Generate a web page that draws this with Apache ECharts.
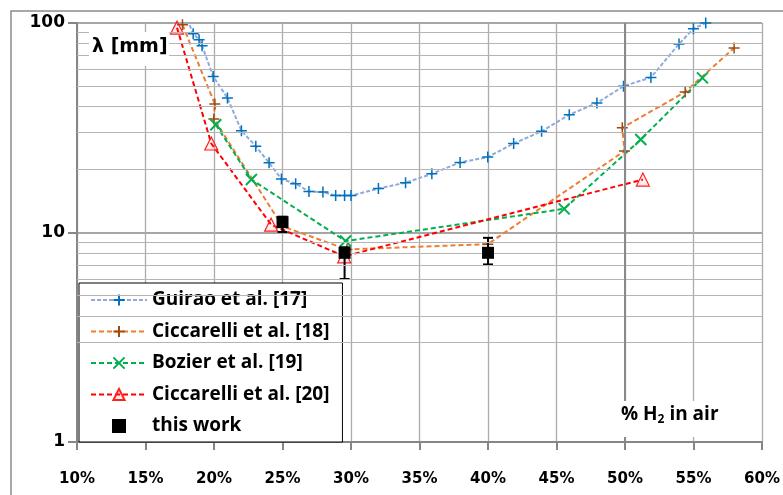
<!DOCTYPE html>
<html><head><meta charset="utf-8">
<script src="https://cdn.jsdelivr.net/npm/echarts@6/dist/echarts.min.js"></script>
<style>html,body{margin:0;padding:0;background:#fff}#c{width:783px;height:495px}</style>
</head><body><div id="c"></div>
<script>
// ---- data ----
const xTicks = [10, 15, 20, 25, 30, 35, 40, 45, 50, 55, 60];
const yTicks = [1, 10, 100];
const minorGridValues = [3, 4, 5, 6, 7, 8, 9, 20, 30, 40, 50, 60, 70, 80, 90];

const guiraoX = [18.05, 18.48, 18.91, 19.13, 19.94, 20.98, 22.0, 23.05, 24.02, 24.92, 25.96, 26.93, 27.95, 28.88, 29.53, 30.0, 32.0, 33.98, 35.9, 37.96, 39.98, 41.87, 43.91, 45.93, 47.95, 49.89, 51.89, 53.94, 54.99, 55.89];
const guiraoY = [104, 88.9, 83.2, 77.9, 55.6, 43.9, 30.6, 25.8, 21.5, 18.0, 17.1, 15.7, 15.6, 15.0, 15.0, 15.0, 16.2, 17.3, 19.05, 21.6, 22.9, 26.6, 30.4, 36.5, 41.5, 49.9, 55.0, 79.4, 93.9, 100];

const cicc18X = [17.7, 20.06, 19.99, 25.0, 29.7, 39.98, 49.96, 49.8, 54.39, 57.96];
const cicc18Y = [98, 41.1, 34.8, 10.7, 8.3, 8.8, 24.5, 31.6, 46.9, 76];

const bozierX = [20.13, 22.73, 29.6, 45.56, 51.15, 55.65];
const bozierY = [32.7, 17.9, 9.1, 12.97, 27.8, 54.7];

const cicc20X = [17.3, 19.8, 24.17, 29.5, 51.3];
const cicc20Y = [95, 26.6, 10.9, 7.7, 17.9];

const workX = [25.0, 29.53, 40.0];
const workY = [11.2, 8.0, 8.0];
const workLow = [10.06, 6.0, 7.04];
const workHigh = [11.9, 8.5, 9.43];

const names = ['Guirao et al. [17]', 'Ciccarelli et al. [18]', 'Bozier et al. [19]', 'Ciccarelli et al. [20]', 'this work'];

// ---- build ----
const zip = (a, b) => a.map((v, i) => [v, b[i]]);
const plusPath = 'path://M5,0L5,10M0,5L10,5';
const crossPath = 'path://M0,0L10,10M10,0L0,10';
const squarePath = 'path://M0,0L10,0L10,10L0,10Z';
const FONT = 'Open Sans';

const chart = echarts.init(document.getElementById('c'), null, {renderer: 'canvas'});

const option = {
  animation: false,
  grid: {left: 77, right: 20, top: 23, bottom: 53},
  xAxis: {
    type: 'value', min: xTicks[0], max: xTicks[xTicks.length - 1], interval: 5,
    axisLine: {lineStyle: {color: '#868686', width: 2}},
    axisTick: {show: true, length: 8, lineStyle: {color: '#868686', width: 2}},
    axisLabel: {formatter: v => v + '%', margin: 30, color: '#000', fontFamily: 'DejaVu Sans', fontWeight: 'bold', fontSize: 15},
    splitLine: {show: true, lineStyle: {color: '#ABABAB', width: 1.3}}
  },
  yAxis: {
    type: 'log', logBase: 10, min: yTicks[0], max: yTicks[yTicks.length - 1],
    axisLine: {show: true, lineStyle: {color: '#868686', width: 2}},
    axisTick: {show: true, length: 9, lineStyle: {color: '#868686', width: 2}},
    axisLabel: {margin: 12, color: '#000', fontFamily: 'DejaVu Sans', fontWeight: 'bold', fontSize: 17},
    splitLine: {show: true, lineStyle: {color: '#A6A6A6', width: 2}},
    minorTick: {show: false}
  },
  legend: {
    orient: 'vertical', left: 79, top: 283,
    padding: [7.5, 13, 6.5, 11], itemWidth: 56, itemHeight: 14, itemGap: 12.5,
    backgroundColor: '#fff', borderColor: '#000', borderWidth: 1,
    textStyle: {fontFamily: FONT, fontWeight: 'bold', fontSize: 19, lineHeight: 19, color: '#000'},
    data: [
      {name: names[0]}, {name: names[1]}, {name: names[2]}, {name: names[3]},
      {name: names[4], icon: squarePath}
    ]
  },
  graphic: [
    {type: 'rect', z: -10, shape: {x: 11, y: 11, width: 900, height: 700}, style: {fill: 'none', stroke: '#8C8C8C', lineWidth: 1.5}},
    {type: 'rect', z: 100, shape: {x: 89, y: 32, width: 80, height: 34}, style: {fill: '#fff'}},
    {type: 'text', z: 101, x: 92, y: 47, style: {text: 'λ [mm]', fontFamily: 'DejaVu Sans', fontWeight: 'bold', fontSize: 19, fill: '#000', verticalAlign: 'middle'}},
    {type: 'rect', z: 100, shape: {x: 614, y: 401, width: 124, height: 36}, style: {fill: '#fff'}},
    {type: 'text', z: 101, x: 621, y: 415, style: {
      text: '% H{sub|2} in air', fontFamily: FONT, fontWeight: 'bold', fontSize: 19, fill: '#000', verticalAlign: 'middle',
      rich: {sub: {fontFamily: FONT, fontWeight: 'bold', fontSize: 12, verticalAlign: 'bottom', padding: [9, 0, 0, 0]}}
    }}
  ],
  series: [
    {
      type: 'line', name: '_grid', data: [], z: 1, silent: true,
      markLine: {
        silent: true, symbol: ['none', 'none'], label: {show: false}, animation: false,
        lineStyle: {color: '#B4B4B4', width: 1.2, type: 'solid'},
        data: minorGridValues.map(v => ({yAxis: v})).concat([{xAxis: 50, lineStyle: {color: '#8A8A8A', width: 2, type: 'solid'}}])
      }
    },
    {
      type: 'line', name: names[0], data: zip(guiraoX, guiraoY), z: 3,
      symbol: plusPath, symbolSize: 11,
      lineStyle: {color: '#8FAADC', width: 2, type: [4, 2]},
      itemStyle: {color: 'rgba(0,0,0,0)', borderColor: '#0070C0', borderWidth: 1.5}
    },
    {
      type: 'line', name: names[1], data: zip(cicc18X, cicc18Y), z: 3,
      symbol: plusPath, symbolSize: 11,
      lineStyle: {color: '#ED7D31', width: 2, type: [5, 3]},
      itemStyle: {color: 'rgba(0,0,0,0)', borderColor: '#9E4A10', borderWidth: 1.5}
    },
    {
      type: 'line', name: names[2], data: zip(bozierX, bozierY), z: 3,
      symbol: crossPath, symbolSize: 11,
      lineStyle: {color: '#00B050', width: 2, type: [5, 3]},
      itemStyle: {color: 'rgba(0,0,0,0)', borderColor: '#00B050', borderWidth: 2}
    },
    {
      type: 'line', name: names[3], data: zip(cicc20X, cicc20Y), z: 3,
      symbol: 'triangle', symbolSize: 13,
      lineStyle: {color: '#FF0000', width: 2, type: [5, 3]},
      itemStyle: {color: 'rgba(255,0,0,0.08)', borderColor: '#FF2020', borderWidth: 1.2}
    },
    {
      type: 'custom', z: 4, silent: true,
      data: workX.map((x, i) => [x, workLow[i], workHigh[i]]),
      renderItem: function (params, api) {
        const lo = api.coord([api.value(0), api.value(1)]);
        const hi = api.coord([api.value(0), api.value(2)]);
        const hw = 5;
        const st = {stroke: '#000', lineWidth: 2};
        return {type: 'group', children: [
          {type: 'line', shape: {x1: lo[0], y1: lo[1], x2: hi[0], y2: hi[1]}, style: st},
          {type: 'line', shape: {x1: lo[0] - hw, y1: lo[1], x2: lo[0] + hw, y2: lo[1]}, style: st},
          {type: 'line', shape: {x1: hi[0] - hw, y1: hi[1], x2: hi[0] + hw, y2: hi[1]}, style: st}
        ]};
      }
    },
    {
      type: 'scatter', name: names[4], data: zip(workX, workY), z: 5,
      symbol: 'rect', symbolSize: 12,
      itemStyle: {color: '#000', opacity: 1}
    }
  ]
};
chart.setOption(option);
</script>
</body></html>
